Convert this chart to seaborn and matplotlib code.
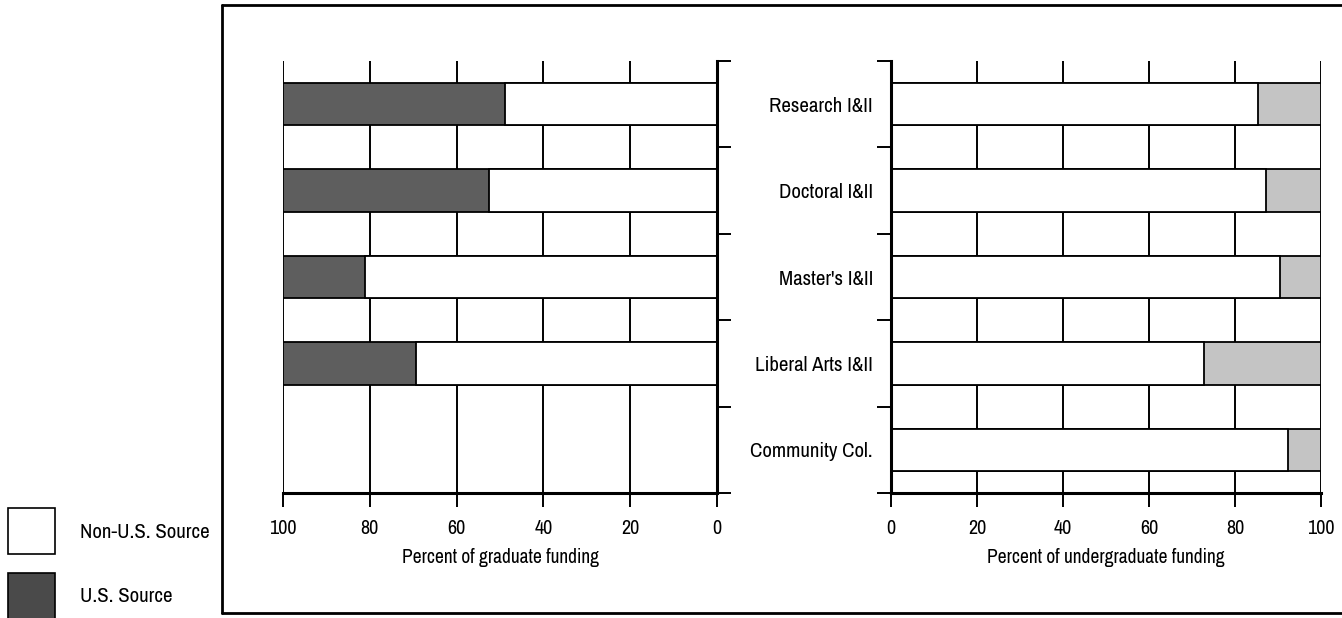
import numpy as np
import pandas as pd
import matplotlib.pyplot as plt
import seaborn as sns
from matplotlib.patches import Rectangle
from matplotlib.lines import Line2D

# Institution categories (top to bottom)
categories = ['Research I&II', 'Doctoral I&II', "Master's I&II", 'Liberal Arts I&II', 'Community Col.']

# Graduate funding: non-U.S. share (no graduate bar for community colleges)
grad_categories = ['Research I&II', 'Doctoral I&II', "Master's I&II", 'Liberal Arts I&II']
grad_non_us = [48.8, 52.5, 81.0, 69.3]

# Undergraduate funding: non-U.S. share
undergrad_non_us = [85.3, 87.1, 90.4, 72.9, 92.4]

x_ticks = [0, 20, 40, 60, 80, 100]
legend_labels = ['Non-U.S. Source', 'U.S. Source']

W, H = 1342, 618
sns.set_style('white')
plt.rcParams['font.family'] = ['Archivo Narrow', 'Liberation Sans Narrow', 'Liberation Sans', 'DejaVu Sans']
plt.rcParams['text.color'] = 'black'
plt.rcParams['xtick.color'] = 'black'
plt.rcParams['ytick.color'] = 'black'
plt.rcParams['axes.labelcolor'] = 'black'

fig = plt.figure(figsize=(W / 100, H / 100), dpi=100)

def px_axes(x0, x1, y0, y1):
    # axes rect from pixel edges (y measured from top)
    return fig.add_axes([x0 / W, 1 - y1 / H, (x1 - x0) / W, (y1 - y0) / H])

ax_g = px_axes(283, 717, 61, 493)
ax_u = px_axes(891, 1321, 61, 493)

grad = pd.DataFrame({'cat': grad_categories, 'non_us': grad_non_us})
grad['total'] = 100
under = pd.DataFrame({'cat': categories, 'non_us': undergrad_non_us})
under['total'] = 100

us_color_g = '#5e5e5e'
us_color_u = '#c4c4c4'
bar_kw = dict(order=categories, orient='h', width=0.49, edgecolor='black',
              linewidth=1.3, saturation=1)

# full-length U.S. bar first, then the non-U.S. part drawn over it
sns.barplot(data=grad, x='total', y='cat', color=us_color_g, ax=ax_g, **bar_kw)
sns.barplot(data=grad, x='non_us', y='cat', color='white', ax=ax_g, **bar_kw)
sns.barplot(data=under, x='total', y='cat', color=us_color_u, ax=ax_u, **bar_kw)
sns.barplot(data=under, x='non_us', y='cat', color='white', ax=ax_u, **bar_kw)

boundaries = np.arange(-0.5, len(categories), 1)
centers = np.arange(len(categories))

for ax in (ax_g, ax_u):
    ax.set_axisbelow(True)
    ax.grid(axis='x', color='black', linewidth=1.4)
    ax.grid(axis='y', visible=False)
    ax.set_xticks(x_ticks)
    ax.set_xticklabels([str(t) for t in x_ticks], fontsize=14.5)
    ax.tick_params(axis='x', direction='out', length=10, width=1.4, pad=9,
                   bottom=True)
    ax.set_ylim(len(categories) - 0.5, -0.5)
    ax.set_yticks(boundaries)
    ax.set_yticklabels([])
    ax.tick_params(axis='y', which='major', direction='out', length=10, width=1.4)
    ax.spines['top'].set_visible(False)
    ax.spines['bottom'].set_linewidth(2.2)
    ax.spines['bottom'].set_color('black')
    ax.set_ylabel('')

# graduate panel: reversed axis, spine on the right
ax_g.set_xlim(100, 0)
ax_g.spines['left'].set_visible(False)
ax_g.spines['right'].set_linewidth(2.2)
ax_g.spines['right'].set_color('black')
ax_g.yaxis.tick_right()
ax_g.set_xlabel('Percent of graduate funding', fontsize=14, labelpad=7)

# undergraduate panel
ax_u.set_xlim(0, 100)
ax_u.spines['right'].set_visible(False)
ax_u.spines['left'].set_linewidth(2.2)
ax_u.spines['left'].set_color('black')
ax_u.yaxis.tick_left()
ax_u.set_yticks(centers, minor=True)
ax_u.set_yticklabels(categories, minor=True, fontsize=15)
ax_u.tick_params(axis='y', which='minor', length=0, pad=13)
ax_u.set_xlabel('Percent of undergraduate funding', fontsize=14, labelpad=7)

# outer frame
for xs, ys in [((222, 222), (5, 613)), ((222, W), (5, 5)), ((222, W), (613, 613))]:
    fig.add_artist(Line2D([x / W for x in xs], [1 - y / H for y in ys],
                          color='black', linewidth=2, transform=fig.transFigure))

# legend boxes on the left
for (y0, col), lab in zip([(508, 'white'), (573, '#4a4a4a')], legend_labels):
    fig.add_artist(Rectangle((8 / W, 1 - (y0 + 46) / H), 47 / W, 46 / H,
                             facecolor=col, edgecolor='black', linewidth=1.2,
                             transform=fig.transFigure))
    fig.text(80 / W, 1 - (y0 + 24) / H, lab, fontsize=15, va='center', ha='left')

plt.savefig('out.png', dpi=100)
